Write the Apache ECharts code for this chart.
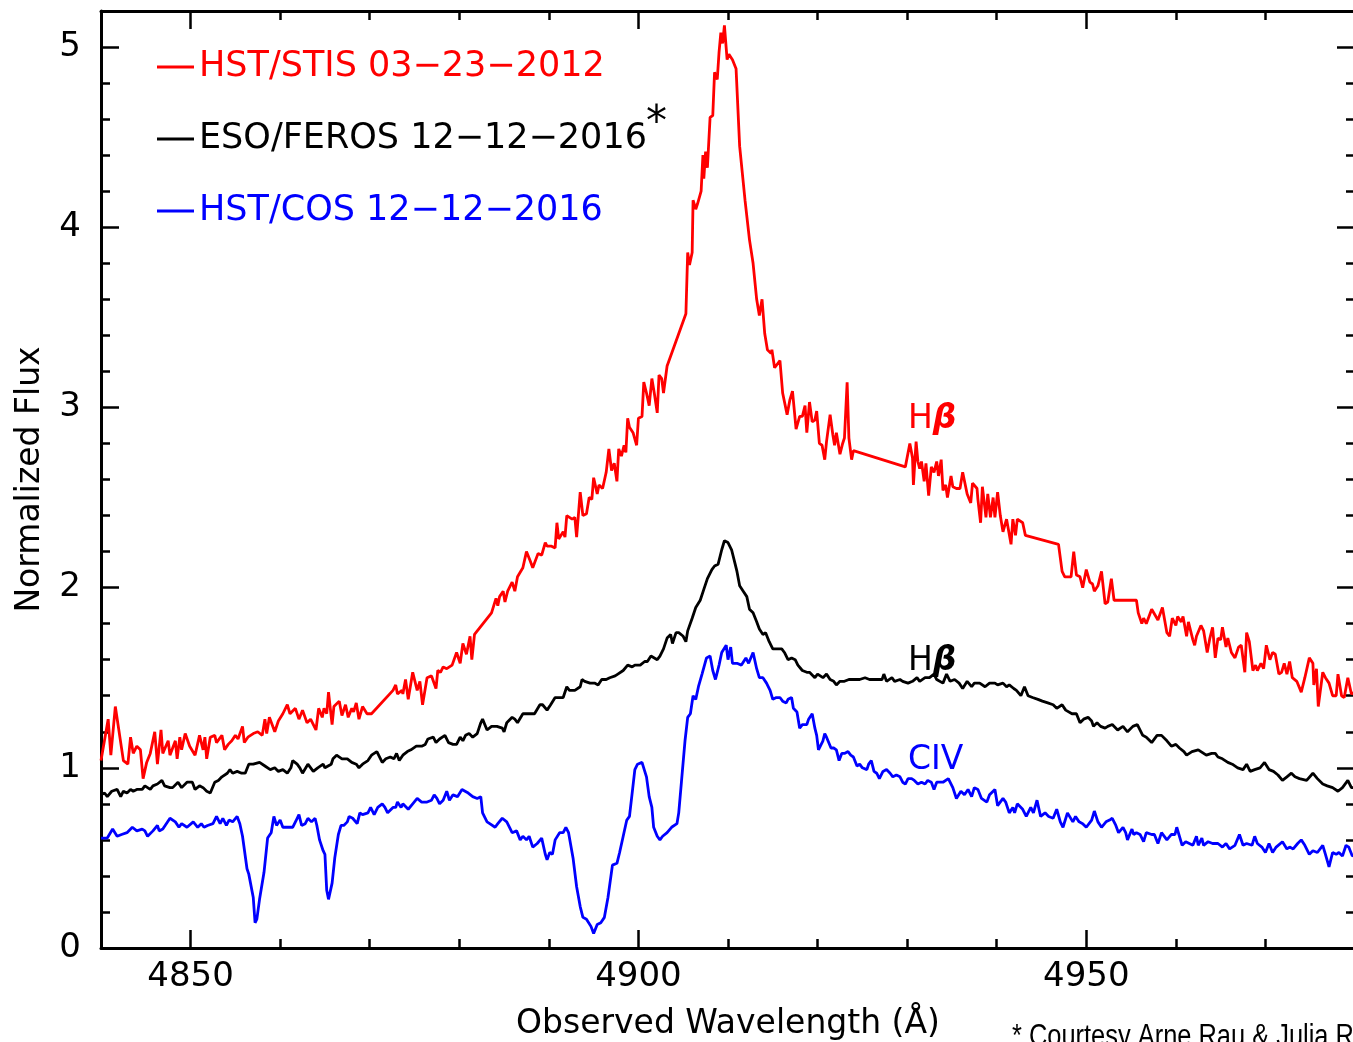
<!DOCTYPE html>
<html>
<head>
<meta charset="utf-8">
<script src="https://cdn.jsdelivr.net/npm/echarts@6/dist/echarts.min.js"></script>
<style>
html,body{margin:0;padding:0;background:#fff;}
#chart{width:1353px;height:1042px;}
</style>
</head>
<body>
<div id="chart"></div>
<script>
// ---- tick values ----
var xMajorTicks = [4850, 4900, 4950];
var xMinorTicks = [4840, 4850, 4860, 4870, 4880, 4890, 4900, 4910, 4920, 4930, 4940, 4950, 4960, 4970, 4980];
var yMajorTicks = [0, 1, 2, 3, 4, 5];
var yMinorTicks = [0, 0.2, 0.4, 0.6, 0.8, 1, 1.2, 1.4, 1.6, 1.8, 2, 2.2, 2.4, 2.6, 2.8, 3, 3.2, 3.4, 3.6, 3.8, 4, 4.2, 4.4, 4.6, 4.8, 5, 5.2];

// ---- series names ----
var seriesNames = ['HST/STIS 03\u221223\u22122012', 'ESO/FEROS 12\u221212\u22122016', 'HST/COS 12\u221212\u22122016'];

// ---- HST/STIS 2012 (wavelength, normalized flux) ----
var stisData = [
[4840.0,1.04],[4840.8,1.27],[4841.1,1.07],[4841.6,1.34],[4842.5,1.04],[4843.0,1.02],[4843.3,1.17],[4843.6,1.08],
[4844.0,1.12],[4844.4,1.10],[4844.7,0.94],[4845.1,1.03],[4845.5,1.08],[4846.0,1.20],[4846.3,1.02],[4846.7,1.21],
[4846.9,1.08],[4847.5,1.15],[4847.7,1.07],[4848.3,1.15],[4848.5,1.05],[4848.8,1.17],[4849.0,1.10],[4849.4,1.19],
[4849.9,1.12],[4850.5,1.07],[4851.0,1.18],[4851.4,1.10],[4851.6,1.17],[4851.8,1.05],[4852.2,1.17],[4852.7,1.18],
[4852.9,1.14],[4853.5,1.18],[4853.8,1.10],[4854.2,1.13],[4854.6,1.15],[4855.0,1.18],[4855.3,1.16],[4855.8,1.23],
[4856.0,1.14],[4856.4,1.17],[4857.0,1.19],[4857.5,1.20],[4858.0,1.18],[4858.3,1.27],[4858.5,1.19],[4858.8,1.28],
[4859.4,1.20],[4859.8,1.26],[4860.3,1.30],[4860.8,1.35],[4861.1,1.30],[4861.7,1.33],[4862.1,1.27],[4862.5,1.32],
[4863.0,1.25],[4863.4,1.27],[4864.0,1.21],[4864.3,1.33],[4864.7,1.28],[4864.9,1.33],[4865.2,1.30],[4865.4,1.42],
[4865.8,1.24],[4866.0,1.34],[4866.6,1.37],[4866.9,1.29],[4867.3,1.35],[4867.6,1.28],[4868.0,1.33],[4868.2,1.31],
[4868.5,1.36],[4868.8,1.27],[4869.2,1.34],[4869.7,1.30],[4870.2,1.30],[4872.6,1.43],[4872.9,1.46],[4873.1,1.41],
[4873.6,1.43],[4873.7,1.41],[4874.0,1.49],[4874.3,1.38],[4874.8,1.53],[4875.3,1.43],[4875.6,1.48],[4875.9,1.35],
[4876.4,1.50],[4876.9,1.51],[4877.4,1.44],[4877.6,1.54],[4877.9,1.53],[4878.2,1.56],[4878.6,1.55],[4879.2,1.57],
[4879.7,1.64],[4880.1,1.58],[4880.4,1.69],[4880.8,1.63],[4881.2,1.73],[4881.4,1.60],[4881.7,1.74],[4883.6,1.86],
[4883.8,1.87],[4884.1,1.94],[4884.3,1.90],[4884.5,1.95],[4884.9,1.98],[4885.1,1.92],[4885.4,1.98],[4885.9,2.03],
[4886.2,1.98],[4886.5,2.06],[4887.1,2.11],[4887.5,2.20],[4887.9,2.15],[4888.2,2.11],[4888.8,2.19],[4889.2,2.18],
[4889.6,2.25],[4889.8,2.23],[4890.3,2.23],[4890.7,2.22],[4890.9,2.36],[4891.1,2.27],[4891.6,2.31],[4891.8,2.28],
[4892.0,2.40],[4892.6,2.38],[4892.9,2.39],[4893.1,2.28],[4893.5,2.53],[4893.8,2.40],[4894.2,2.41],[4894.5,2.50],
[4894.8,2.49],[4895.0,2.61],[4895.4,2.52],[4895.6,2.57],[4896.0,2.55],[4896.4,2.64],[4896.7,2.77],[4897.0,2.65],
[4897.3,2.69],[4897.6,2.59],[4897.8,2.77],[4898.1,2.73],[4898.4,2.79],[4898.6,2.75],[4898.8,2.94],[4899.0,2.89],
[4899.4,2.86],[4899.5,2.87],[4899.8,2.79],[4900.0,2.94],[4900.4,2.95],[4900.6,3.14],[4900.9,3.08],[4901.2,3.01],
[4901.5,3.16],[4901.8,3.07],[4902.1,2.97],[4902.3,3.18],[4902.6,3.16],[4902.8,3.08],[4903.2,3.23],[4905.3,3.52],
[4905.5,3.86],[4905.7,3.79],[4906.0,3.86],[4906.1,4.15],[4906.4,4.10],[4906.6,4.13],[4907.0,4.20],[4907.2,4.40],
[4907.3,4.27],[4907.5,4.42],[4907.7,4.33],[4908.0,4.61],[4908.3,4.62],[4908.5,4.86],[4908.8,4.82],[4909.0,4.97],
[4909.2,5.08],[4909.4,5.02],[4909.6,5.12],[4909.9,4.93],[4910.1,4.96],[4910.5,4.93],[4910.9,4.88],[4911.3,4.45],
[4911.9,4.15],[4912.4,3.93],[4912.8,3.80],[4913.2,3.60],[4913.5,3.51],[4913.8,3.60],[4914.1,3.41],[4914.4,3.32],
[4914.8,3.30],[4914.9,3.32],[4915.2,3.22],[4915.4,3.21],[4915.8,3.26],[4916.1,3.08],[4916.6,2.96],[4916.9,3.04],
[4917.2,3.09],[4917.6,2.88],[4917.8,2.89],[4918.0,2.95],[4918.3,2.95],[4918.6,3.01],[4918.8,2.86],[4919.1,3.03],
[4919.4,2.92],[4919.7,2.93],[4919.9,2.98],[4920.2,2.80],[4920.5,2.79],[4920.8,2.71],[4921.0,2.81],[4921.4,2.96],
[4921.7,2.85],[4921.9,2.79],[4922.1,2.86],[4922.5,2.74],[4922.8,2.80],[4923.0,2.83],[4923.3,3.14],[4923.5,2.83],
[4923.8,2.71],[4924.0,2.76],[4929.8,2.67],[4930.3,2.80],[4930.6,2.72],[4930.7,2.57],[4931.0,2.81],[4931.2,2.70],
[4931.4,2.66],[4931.6,2.70],[4931.9,2.59],[4932.1,2.69],[4932.4,2.51],[4932.7,2.67],[4933.0,2.64],[4933.3,2.70],
[4933.5,2.62],[4933.8,2.71],[4934.0,2.54],[4934.3,2.57],[4934.5,2.50],[4934.9,2.62],[4935.1,2.56],[4935.5,2.55],
[4935.9,2.55],[4936.2,2.64],[4936.7,2.52],[4937.1,2.47],[4937.3,2.58],[4937.8,2.55],[4937.9,2.49],[4938.2,2.36],
[4938.4,2.56],[4938.8,2.39],[4939.0,2.52],[4939.3,2.39],[4939.6,2.50],[4939.8,2.39],[4940.1,2.53],[4940.4,2.40],
[4940.7,2.31],[4941.1,2.38],[4941.2,2.39],[4941.6,2.24],[4941.8,2.38],[4942.1,2.29],[4942.3,2.38],[4942.9,2.36],
[4943.2,2.29],[4946.9,2.24],[4947.3,2.09],[4947.6,2.06],[4947.8,2.07],[4948.3,2.06],[4948.6,2.20],[4948.9,2.07],
[4949.3,2.06],[4949.6,2.00],[4950.0,2.10],[4950.4,2.03],[4950.7,2.02],[4950.9,1.98],[4951.3,2.01],[4951.7,2.09],
[4952.1,1.91],[4952.4,1.92],[4952.8,2.05],[4953.1,1.93],[4955.6,1.93],[4955.8,1.86],[4956.2,1.80],[4956.4,1.83],
[4956.7,1.80],[4957.3,1.88],[4957.5,1.87],[4958.0,1.82],[4958.5,1.89],[4959.0,1.75],[4959.3,1.73],[4959.6,1.83],
[4960.0,1.79],[4960.2,1.84],[4960.6,1.81],[4960.8,1.84],[4961.2,1.73],[4961.4,1.81],[4961.9,1.71],[4962.1,1.68],
[4962.3,1.73],[4962.8,1.79],[4963.1,1.76],[4963.5,1.64],[4963.8,1.72],[4964.1,1.78],[4964.4,1.61],[4964.7,1.72],
[4965.0,1.71],[4965.2,1.78],[4965.6,1.67],[4965.8,1.72],[4966.2,1.64],[4966.6,1.61],[4967.0,1.67],[4967.3,1.68],
[4967.7,1.53],[4967.9,1.75],[4968.2,1.70],[4968.6,1.54],[4968.9,1.57],[4969.1,1.54],[4969.5,1.58],[4969.8,1.55],
[4970.1,1.68],[4970.5,1.60],[4970.8,1.64],[4971.1,1.63],[4971.5,1.52],[4971.8,1.53],[4972.1,1.58],[4972.4,1.52],
[4972.7,1.59],[4973.0,1.50],[4973.5,1.48],[4974.0,1.42],[4974.4,1.50],[4974.9,1.61],[4975.3,1.58],[4975.4,1.46],
[4975.7,1.55],[4975.9,1.34],[4976.4,1.53],[4976.7,1.50],[4977.1,1.47],[4977.5,1.40],[4977.9,1.40],[4978.1,1.52],
[4978.5,1.40],[4978.8,1.39],[4979.2,1.50],[4979.6,1.41],[4980.0,1.42]
];

// ---- ESO/FEROS 2016 ----
var ferosData = [
[4840.0,0.85],[4840.4,0.86],[4840.7,0.84],[4841.2,0.87],[4841.8,0.88],[4842.2,0.84],[4842.5,0.87],[4842.9,0.86],
[4843.3,0.88],[4843.6,0.87],[4844.0,0.88],[4844.6,0.88],[4844.9,0.90],[4845.5,0.88],[4845.8,0.90],[4846.3,0.91],
[4846.8,0.93],[4847.1,0.90],[4847.7,0.89],[4848.0,0.89],[4848.6,0.92],[4849.0,0.89],[4849.6,0.92],[4850.2,0.92],
[4850.5,0.88],[4851.0,0.90],[4851.4,0.89],[4851.8,0.87],[4852.2,0.86],[4852.7,0.92],[4853.1,0.93],[4853.5,0.95],
[4854.1,0.97],[4854.4,0.99],[4854.7,0.97],[4855.2,0.98],[4855.7,0.97],[4856.1,0.97],[4856.5,1.02],[4857.0,1.02],
[4857.7,1.03],[4858.3,1.01],[4858.9,0.99],[4859.4,1.00],[4859.8,0.98],[4860.3,0.99],[4860.8,0.97],[4861.2,1.00],
[4861.4,1.04],[4861.9,1.02],[4862.2,1.00],[4862.5,0.97],[4863.1,1.02],[4863.7,0.98],[4864.2,1.00],[4864.8,1.02],
[4865.0,1.00],[4865.7,1.02],[4865.9,1.05],[4866.3,1.07],[4866.9,1.05],[4867.5,1.05],[4868.0,1.03],[4868.5,1.02],
[4868.8,1.00],[4869.2,1.02],[4869.5,1.03],[4869.8,1.04],[4870.2,1.07],[4870.8,1.09],[4871.0,1.09],[4871.4,1.03],
[4871.8,1.05],[4872.3,1.06],[4872.7,1.05],[4873.0,1.08],[4873.3,1.04],[4873.7,1.07],[4874.2,1.09],[4874.6,1.10],
[4875.2,1.12],[4875.8,1.12],[4876.2,1.13],[4876.5,1.16],[4877.1,1.17],[4877.4,1.14],[4877.8,1.16],[4878.4,1.18],
[4878.8,1.14],[4879.3,1.13],[4879.7,1.13],[4880.1,1.17],[4880.4,1.15],[4880.7,1.18],[4881.1,1.19],[4881.5,1.17],
[4882.0,1.19],[4882.4,1.25],[4882.6,1.27],[4883.1,1.21],[4883.6,1.23],[4884.2,1.23],[4884.8,1.22],[4885.0,1.20],
[4885.3,1.25],[4885.9,1.28],[4886.2,1.27],[4886.5,1.25],[4887.1,1.30],[4887.7,1.30],[4888.4,1.30],[4889.0,1.35],
[4889.3,1.35],[4889.8,1.32],[4890.2,1.35],[4890.7,1.39],[4891.2,1.39],[4891.6,1.39],[4892.0,1.45],[4892.3,1.43],
[4892.9,1.43],[4893.5,1.45],[4893.7,1.49],[4894.0,1.48],[4894.6,1.47],[4895.1,1.47],[4895.5,1.46],[4895.9,1.49],
[4896.4,1.49],[4896.8,1.50],[4897.4,1.51],[4897.7,1.52],[4898.3,1.54],[4898.8,1.57],[4899.3,1.56],[4899.6,1.57],
[4900.2,1.57],[4900.7,1.59],[4901.0,1.59],[4901.4,1.62],[4901.6,1.63],[4902.1,1.60],[4902.4,1.62],[4902.8,1.66],
[4903.2,1.72],[4903.6,1.74],[4903.8,1.69],[4904.2,1.75],[4904.5,1.75],[4905.0,1.73],[4905.3,1.70],[4905.5,1.76],
[4906.0,1.83],[4906.4,1.89],[4906.9,1.93],[4907.3,1.99],[4907.7,2.05],[4908.2,2.10],[4908.5,2.12],[4908.9,2.13],
[4909.3,2.21],[4909.6,2.26],[4910.0,2.25],[4910.4,2.21],[4910.8,2.13],[4911.0,2.09],[4911.3,2.01],[4911.7,1.98],
[4912.1,1.95],[4912.4,1.88],[4912.8,1.86],[4913.2,1.81],[4913.5,1.77],[4913.9,1.74],[4914.2,1.75],[4914.6,1.70],
[4915.0,1.66],[4915.4,1.66],[4916.0,1.66],[4916.3,1.64],[4916.7,1.60],[4917.1,1.61],[4917.5,1.60],[4917.8,1.57],
[4918.3,1.54],[4918.8,1.53],[4919.1,1.53],[4919.7,1.50],[4920.0,1.52],[4920.6,1.50],[4921.0,1.52],[4921.4,1.49],
[4921.8,1.48],[4922.1,1.46],[4922.5,1.48],[4923.0,1.48],[4923.5,1.49],[4923.8,1.49],[4924.0,1.48],[4924.7,1.49],
[4925.3,1.50],[4925.8,1.49],[4926.6,1.49],[4927.2,1.49],[4927.4,1.52],[4927.7,1.48],[4928.3,1.50],[4928.6,1.48],
[4929.2,1.49],[4929.5,1.48],[4930.1,1.47],[4930.6,1.48],[4931.1,1.50],[4931.4,1.48],[4932.0,1.50],[4932.5,1.50],
[4933.0,1.52],[4933.3,1.49],[4934.0,1.47],[4934.4,1.52],[4934.8,1.48],[4935.3,1.49],[4935.8,1.47],[4936.2,1.44],
[4936.7,1.48],[4937.2,1.45],[4937.5,1.47],[4938.1,1.47],[4938.7,1.45],[4939.2,1.47],[4939.8,1.47],[4940.1,1.46],
[4940.7,1.47],[4941.1,1.45],[4941.4,1.46],[4941.9,1.44],[4942.2,1.43],[4942.7,1.40],[4943.1,1.45],[4943.5,1.40],
[4944.0,1.39],[4944.6,1.38],[4945.1,1.37],[4945.7,1.36],[4946.3,1.35],[4946.7,1.33],[4947.3,1.35],[4947.7,1.32],
[4948.4,1.30],[4948.9,1.30],[4949.3,1.25],[4949.7,1.27],[4950.2,1.28],[4950.6,1.26],[4950.8,1.23],[4951.2,1.25],
[4951.6,1.23],[4952.1,1.22],[4952.4,1.23],[4952.9,1.24],[4953.5,1.21],[4954.1,1.23],[4954.6,1.20],[4955.2,1.23],
[4955.7,1.24],[4956.3,1.18],[4956.7,1.17],[4957.3,1.14],[4957.9,1.18],[4958.4,1.18],[4959.0,1.15],[4959.5,1.12],
[4960.0,1.13],[4960.4,1.11],[4960.9,1.09],[4961.2,1.07],[4961.8,1.09],[4962.5,1.10],[4963.4,1.07],[4964.0,1.08],
[4964.4,1.08],[4964.7,1.06],[4965.2,1.05],[4965.8,1.03],[4966.3,1.02],[4966.9,1.00],[4967.5,0.99],[4967.9,1.02],
[4968.3,0.98],[4968.8,0.99],[4969.4,1.00],[4969.9,1.03],[4970.4,0.99],[4970.9,0.98],[4971.4,0.96],[4971.9,0.93],
[4972.4,0.95],[4972.9,0.97],[4973.3,0.95],[4973.8,0.94],[4974.6,0.93],[4975.3,0.97],[4975.8,0.94],[4976.4,0.91],
[4976.9,0.90],[4977.5,0.89],[4978.1,0.87],[4978.6,0.89],[4979.2,0.93],[4979.6,0.89],[4980.0,0.89]
];

// ---- HST/COS 2016 ----
var cosData = [
[4840.0,0.61],[4840.2,0.62],[4840.7,0.61],[4841.3,0.66],[4841.8,0.62],[4842.3,0.63],[4842.9,0.64],[4843.5,0.67],
[4844.0,0.65],[4844.6,0.66],[4844.9,0.65],[4845.2,0.62],[4845.8,0.65],[4846.3,0.68],[4846.5,0.65],[4846.9,0.66],
[4847.7,0.72],[4848.3,0.70],[4848.7,0.67],[4849.0,0.69],[4849.6,0.67],[4850.3,0.70],[4850.8,0.67],[4851.2,0.69],
[4851.5,0.67],[4851.9,0.68],[4852.5,0.69],[4852.9,0.73],[4853.3,0.69],[4853.6,0.72],[4854.0,0.68],[4854.3,0.71],
[4854.7,0.70],[4855.2,0.73],[4855.5,0.69],[4855.8,0.62],[4856.3,0.44],[4856.5,0.41],[4857.0,0.28],[4857.2,0.14],
[4857.4,0.16],[4857.7,0.27],[4858.2,0.42],[4858.6,0.61],[4859.0,0.64],[4859.3,0.73],[4859.6,0.68],[4860.0,0.71],
[4860.3,0.67],[4860.9,0.67],[4861.4,0.67],[4861.9,0.72],[4862.1,0.74],[4862.4,0.68],[4862.8,0.69],[4863.1,0.72],
[4863.5,0.70],[4863.9,0.72],[4864.1,0.68],[4864.4,0.60],[4864.8,0.54],[4865.0,0.52],[4865.2,0.32],[4865.4,0.27],
[4865.8,0.36],[4866.1,0.50],[4866.5,0.63],[4866.8,0.68],[4867.1,0.68],[4867.5,0.70],[4867.7,0.73],[4868.1,0.72],
[4868.6,0.69],[4868.9,0.75],[4869.2,0.74],[4869.8,0.75],[4870.1,0.78],[4870.5,0.74],[4870.9,0.78],[4871.4,0.80],
[4871.7,0.78],[4872.0,0.75],[4872.6,0.78],[4872.9,0.78],[4873.1,0.81],[4873.5,0.78],[4873.7,0.80],[4874.3,0.77],
[4874.8,0.80],[4875.3,0.83],[4875.8,0.81],[4876.4,0.81],[4876.9,0.82],[4877.2,0.85],[4877.5,0.83],[4877.8,0.80],
[4878.2,0.82],[4878.6,0.87],[4878.9,0.82],[4879.3,0.85],[4879.8,0.84],[4880.3,0.88],[4880.5,0.89],[4881.0,0.86],
[4881.5,0.84],[4882.0,0.83],[4882.4,0.84],[4882.6,0.75],[4883.1,0.70],[4883.4,0.69],[4884.0,0.67],[4884.3,0.69],
[4884.8,0.72],[4885.3,0.70],[4885.9,0.64],[4886.4,0.65],[4886.8,0.60],[4887.1,0.62],[4887.5,0.60],[4887.8,0.62],
[4888.2,0.56],[4888.7,0.58],[4889.2,0.61],[4889.6,0.52],[4889.8,0.49],[4890.1,0.53],[4890.4,0.52],[4890.7,0.60],
[4891.2,0.64],[4891.6,0.64],[4891.9,0.67],[4892.2,0.64],[4892.7,0.50],[4893.1,0.34],[4893.5,0.23],[4893.8,0.17],
[4894.2,0.16],[4894.7,0.12],[4895.0,0.08],[4895.4,0.13],[4895.8,0.14],[4896.2,0.17],[4896.6,0.28],[4897.1,0.46],
[4897.6,0.47],[4897.9,0.53],[4898.3,0.62],[4898.7,0.71],[4899.0,0.73],[4899.3,0.86],[4899.6,0.99],[4899.9,1.02],
[4900.4,1.03],[4900.6,1.04],[4900.9,0.95],[4901.2,0.84],[4901.5,0.78],[4901.7,0.67],[4902.1,0.62],[4902.4,0.60],
[4902.7,0.62],[4903.2,0.64],[4903.4,0.63],[4903.7,0.67],[4904.3,0.69],[4904.5,0.75],[4904.8,0.92],[4905.2,1.15],
[4905.5,1.28],[4905.8,1.30],[4906.1,1.40],[4906.4,1.38],[4906.7,1.45],[4907.1,1.52],[4907.3,1.52],[4907.6,1.61],
[4908.0,1.62],[4908.3,1.54],[4908.6,1.49],[4909.0,1.57],[4909.3,1.64],[4909.5,1.64],[4909.8,1.68],[4910.0,1.60],
[4910.3,1.67],[4910.5,1.58],[4911.0,1.58],[4911.5,1.57],[4912.0,1.61],[4912.3,1.58],[4912.8,1.64],[4913.2,1.55],
[4913.5,1.50],[4913.9,1.50],[4914.3,1.47],[4914.7,1.43],[4915.0,1.38],[4915.4,1.39],[4915.8,1.39],[4916.1,1.37],
[4916.5,1.36],[4916.7,1.38],[4917.1,1.39],[4917.3,1.33],[4917.7,1.31],[4918.0,1.22],[4918.3,1.24],[4918.8,1.24],
[4919.0,1.27],[4919.4,1.30],[4919.7,1.22],[4919.9,1.18],[4920.1,1.10],[4920.6,1.15],[4920.8,1.19],[4921.0,1.17],
[4921.5,1.11],[4921.8,1.11],[4922.1,1.10],[4922.4,1.04],[4922.7,1.08],[4923.0,1.08],[4923.4,1.09],[4923.7,1.07],
[4924.0,1.06],[4924.4,1.01],[4924.7,1.02],[4925.0,1.00],[4925.5,0.99],[4925.7,1.02],[4926.0,1.04],[4926.3,0.98],
[4926.6,0.97],[4926.9,0.94],[4927.3,0.98],[4927.7,0.99],[4928.1,0.97],[4928.4,0.95],[4928.8,0.96],[4929.2,0.95],
[4929.5,0.92],[4929.8,0.91],[4930.1,0.94],[4930.5,0.94],[4930.8,0.93],[4931.2,0.91],[4931.6,0.92],[4932.0,0.91],
[4932.3,0.93],[4932.7,0.92],[4933.0,0.88],[4933.3,0.92],[4933.6,0.92],[4934.0,0.92],[4934.6,0.94],[4935.1,0.89],
[4935.5,0.83],[4936.0,0.87],[4936.4,0.85],[4936.8,0.88],[4937.2,0.84],[4937.5,0.89],[4937.9,0.88],[4938.3,0.83],
[4938.9,0.81],[4939.2,0.85],[4939.8,0.88],[4940.1,0.79],[4940.7,0.83],[4941.0,0.81],[4941.4,0.75],[4941.8,0.78],
[4942.0,0.75],[4942.3,0.80],[4942.9,0.77],[4943.3,0.73],[4943.8,0.78],[4944.1,0.75],[4944.5,0.82],[4944.9,0.73],
[4945.4,0.75],[4945.8,0.73],[4946.3,0.72],[4946.7,0.77],[4947.1,0.70],[4947.4,0.67],[4947.9,0.75],[4948.5,0.70],
[4948.8,0.73],[4949.2,0.70],[4949.6,0.69],[4950.0,0.67],[4950.6,0.71],[4950.9,0.76],[4951.3,0.70],[4951.7,0.67],
[4952.2,0.70],[4952.6,0.71],[4952.9,0.72],[4953.3,0.68],[4953.6,0.64],[4954.1,0.67],[4954.4,0.64],[4954.6,0.60],
[4955.1,0.66],[4955.3,0.63],[4955.6,0.64],[4956.0,0.63],[4956.4,0.59],[4956.7,0.64],[4957.3,0.63],[4957.6,0.63],
[4958.0,0.58],[4958.4,0.64],[4959.0,0.60],[4959.5,0.63],[4959.9,0.63],[4960.1,0.67],[4960.7,0.57],[4961.1,0.59],
[4961.5,0.58],[4961.9,0.57],[4962.3,0.62],[4962.5,0.57],[4962.9,0.61],[4963.1,0.57],[4963.6,0.59],[4964.1,0.58],
[4964.7,0.58],[4965.2,0.56],[4965.6,0.58],[4966.0,0.55],[4966.6,0.57],[4967.1,0.63],[4967.5,0.57],[4967.9,0.58],
[4968.5,0.57],[4968.8,0.62],[4969.1,0.58],[4969.6,0.56],[4970.0,0.53],[4970.4,0.58],[4970.8,0.53],[4971.2,0.56],
[4971.9,0.59],[4972.4,0.55],[4972.7,0.56],[4973.1,0.55],[4973.6,0.58],[4974.0,0.60],[4974.4,0.57],[4974.9,0.52],
[4975.3,0.54],[4975.8,0.53],[4976.4,0.57],[4976.7,0.52],[4977.1,0.45],[4977.5,0.53],[4977.9,0.52],[4978.2,0.53],
[4978.6,0.51],[4979.0,0.57],[4979.3,0.56],[4979.7,0.51],[4980.0,0.52]
];

var seriesColors = ['#ff0000', '#000000', '#0000ff'];

var FONT = "'DejaVu Sans', sans-serif";
var X_MIN = 4840, X_MAX = 4980, Y_MIN = 0, Y_MAX = 5.2;

function plainNum(v) { return String(v); }

function xAxisDef(pos, ticks, len, showLabel, showLine) {
  return {
    type: 'value', position: pos, min: X_MIN, max: X_MAX,
    axisLine: { show: showLine, onZero: false, lineStyle: { color: '#000', width: 3 } },
    axisTick: { show: true, inside: true, length: len, customValues: ticks, lineStyle: { color: '#000', width: 2.5 } },
    axisLabel: showLabel ? { show: true, customValues: ticks, formatter: plainNum, margin: 12, color: '#000', fontSize: 34, fontFamily: FONT } : { show: false },
    splitLine: { show: false }
  };
}
function yAxisDef(pos, ticks, len, showLabel, showLine) {
  return {
    type: 'value', position: pos, min: Y_MIN, max: Y_MAX,
    axisLine: { show: showLine, onZero: false, lineStyle: { color: '#000', width: 3 } },
    axisTick: { show: true, inside: true, length: len, customValues: ticks, lineStyle: { color: '#000', width: 2.5 } },
    axisLabel: showLabel ? { show: true, customValues: ticks, formatter: plainNum, margin: 20, color: '#000', fontSize: 34, fontFamily: FONT } : { show: false },
    splitLine: { show: false }
  };
}

var xAxes = [
  xAxisDef('bottom', xMajorTicks, 18, true, true),
  xAxisDef('bottom', xMinorTicks, 9, false, false),
  xAxisDef('top', xMajorTicks, 18, false, true),
  xAxisDef('top', xMinorTicks, 9, false, false)
];
xAxes[0].name = 'Observed Wavelength (\u00c5)';
xAxes[0].nameLocation = 'middle';
xAxes[0].nameGap = 60;
xAxes[0].nameTextStyle = { fontSize: 33, fontFamily: FONT, color: '#000' };

var yAxes = [
  yAxisDef('left', yMajorTicks, 18, true, true),
  yAxisDef('left', yMinorTicks, 9, false, false),
  yAxisDef('right', yMajorTicks, 18, false, true),
  yAxisDef('right', yMinorTicks, 9, false, false)
];
yAxes[0].name = 'Normalized Flux';
yAxes[0].nameLocation = 'middle';
yAxes[0].nameRotate = 90;
yAxes[0].nameGap = 54;
yAxes[0].nameTextStyle = { fontSize: 33, fontFamily: FONT, color: '#000' };

var allData = [stisData, ferosData, cosData];
var series = seriesNames.map(function (n, i) {
  return {
    name: n, type: 'line', data: allData[i], xAxisIndex: 0, yAxisIndex: 0,
    showSymbol: false, symbol: 'none', smooth: false,
    lineStyle: { color: seriesColors[i], width: 2.8 },
    itemStyle: { color: seriesColors[i] },
    z: 3 - i
  };
});

function hbeta(color) {
  return {
    text: '{h|H}{b|\u03b2}',
    rich: {
      h: { fontSize: 33, fontFamily: FONT, fill: color },
      b: { fontSize: 33, fontFamily: FONT, fill: color, fontStyle: 'italic', fontWeight: 'bold' }
    }
  };
}

var chart = echarts.init(document.getElementById('chart'), null, { renderer: 'canvas' });
chart.setOption({
  animation: false,
  backgroundColor: '#fff',
  grid: { left: 101, right: -2, top: 11, bottom: 94, containLabel: false, outerBoundsMode: 'none' },
  xAxis: xAxes,
  yAxis: yAxes,
  legend: {
    orient: 'vertical', left: 152, top: 42,
    itemWidth: 37, itemHeight: 3, itemGap: 32, icon: 'rect',
    textStyle: { fontSize: 35, fontFamily: FONT, lineHeight: 40 },
    data: seriesNames.map(function (n, i) {
      return { name: n, textStyle: { color: seriesColors[i] }, itemStyle: { color: seriesColors[i] } };
    }),
    selectedMode: false
  },
  graphic: [
    { type: 'text', left: 646, top: 103, style: { text: '*', fontSize: 42, fontFamily: FONT, fill: '#000' } },
    { type: 'text', left: 908, top: 403, style: hbeta('#ff0000') },
    { type: 'text', left: 908, top: 645, style: hbeta('#000000') },
    { type: 'text', left: 908, top: 744, style: { text: 'CIV', fontSize: 33, fontFamily: FONT, fill: '#0000ff' } },
    { type: 'text', left: 1012, top: 1022, scaleX: 0.82, style: { text: '* Courtesy Arne Rau & Julia R', fontSize: 31,
        fontFamily: "'Liberation Sans', sans-serif", fill: '#000' } }
  ],
  series: series
});
</script>
</body>
</html>
